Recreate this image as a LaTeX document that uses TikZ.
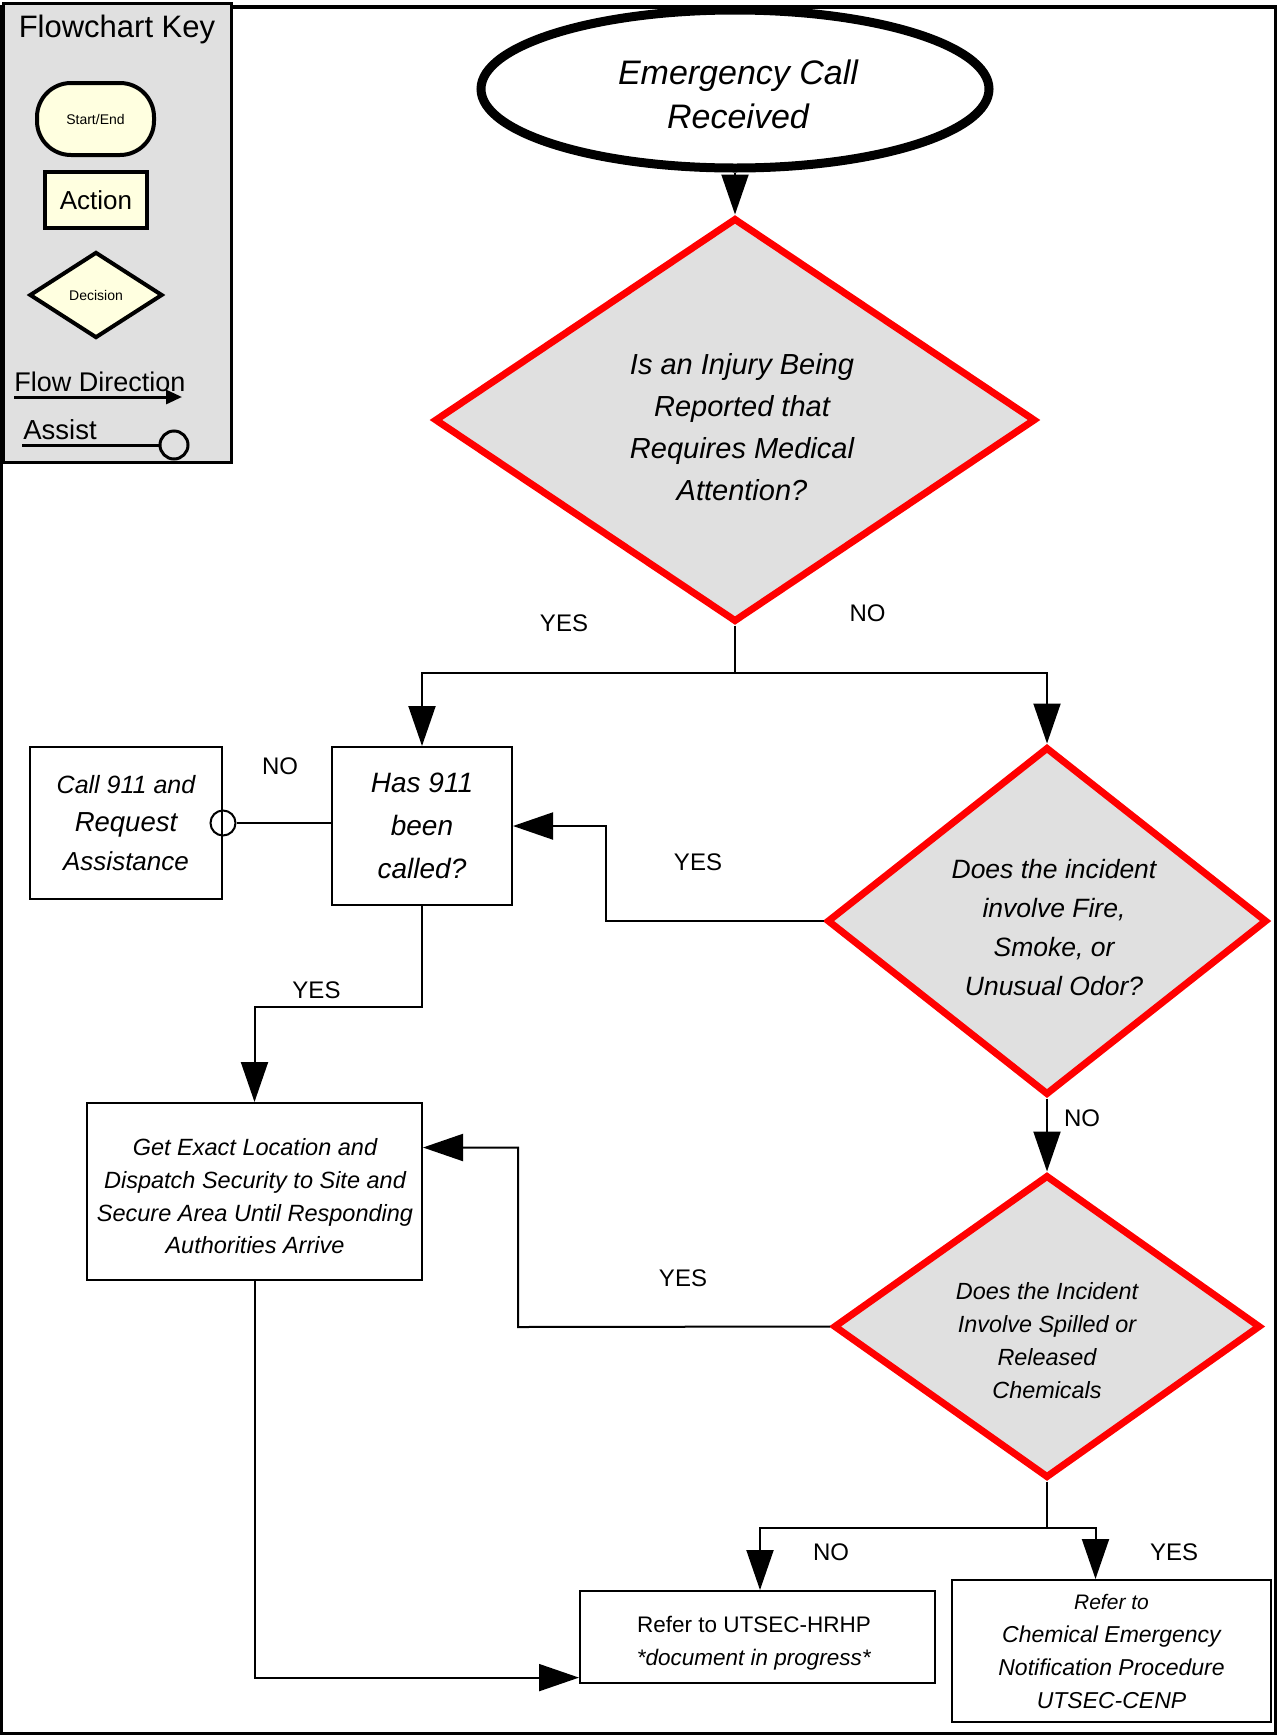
\documentclass[tikz,border=0pt]{standalone}
\usepackage{fontspec}
\setmainfont{Liberation Sans}
\usetikzlibrary{arrows.meta,shapes.geometric,calc}
\newcommand\fsz[2]{\fontsize{#1}{#2}\selectfont}
\definecolor{dgray}{RGB}{224,224,224}
\definecolor{cream}{RGB}{255,255,224}
\definecolor{kred}{RGB}{255,0,0}
\begin{document}
\begin{tikzpicture}[x=1pt,y=-1pt,
  conn/.style={line width=2pt},
  arr/.style={conn,-{Triangle[length=40pt,width=27pt]}},
  actbox/.style={draw,line width=2pt,fill=white,inner sep=0pt,align=center},
  decis/.style={diamond,draw=kred,line width=7pt,fill=dgray,inner sep=0pt},
  dtext/.style={align=center,inner sep=0pt},
  lbl/.style={inner sep=0pt,font=\fsz{24}{28}},
  keyshape/.style={draw,line width=4pt,fill=cream,inner sep=0pt}
]
\useasboundingbox (0,0) rectangle (1277,1735);
% outer frame
\draw[line width=2.5pt] (1.5,6.5) rectangle (1275.5,1733.5);
\draw[line width=4pt] (0,6.5) -- (1277,6.5);

% key
\node[draw,line width=3pt,fill=dgray,minimum width=228pt,minimum height=459pt,inner sep=0pt] (key) at (117.5,233) {};
\node[inner sep=0pt,font=\fsz{31}{34}] (keytitle) at (117,29) {Flowchart Key};
\node[keyshape,rounded corners=34pt,minimum width=117pt,minimum height=72pt,font=\fsz{14}{16}] (kse) at (95.5,119) {Start/End};
\node[keyshape,minimum width=102pt,minimum height=56pt,font=\fsz{26}{30}] (kact) at (96,200) {Action};
\node[keyshape,diamond,minimum width=133pt,minimum height=86pt,font=\fsz{14}{16}] (kdec) at (96,295) {Decision};
\node[inner sep=0pt,font=\fsz{27}{30}] (kflow) at (100,382) {Flow Direction};
\coordinate (kfa) at (14,397);
\coordinate (kfb) at (182,397);
\draw[line width=3pt,-{Triangle[length=16pt,width=14pt]}] (kfa) -- (kfb);
\node[inner sep=0pt,font=\fsz{27.5}{30}] (kassist) at (60,430) {Assist};
\node[circle,draw,line width=3pt,minimum size=28pt,inner sep=0pt] (kcirc) at (174,445) {};
\coordinate (kaa) at (22,445);
\draw[line width=3pt] (kaa) -- (kcirc.west);

% start
\node[ellipse,draw,line width=9pt,fill=white,minimum width=508pt,minimum height=158pt,inner sep=0pt] (start) at (735,89) {};
\node[dtext,font=\fsz{34}{44}\itshape] (startt) at (738,94) {Emergency Call\\Received};

% decision 1
\node[decis,minimum width=601pt,minimum height=404pt] (d1) at (735,420) {};
\node[dtext,font=\fsz{29}{42}\itshape] (d1t) at (742,427) {Is an Injury Being\\Reported that\\Requires Medical\\Attention?};

% has 911
\node[actbox,minimum width=180pt,minimum height=158pt,font=\fsz{28}{43}\itshape] (has) at (422,826) {Has 911\\been\\called?};
% call 911
\node[actbox,minimum width=192pt,minimum height=152pt,font=\fsz{26}{38.5}\itshape] (call) at (126,823) {{\fsz{25}{38.5}Call 911 and}\\{\fsz{27.5}{38.5}Request}\\{\fsz{26}{38.5}Assistance}};
\node[circle,draw,line width=2pt,minimum size=25pt,inner sep=0pt] (asc) at (call.east) {};

% decision 2
\node[decis,minimum width=440pt,minimum height=348pt] (d2) at (1047,921) {};
\node[dtext,font=\fsz{26.5}{39}\itshape] (d2t) at (1054,928) {Does the incident\\involve Fire,\\Smoke, or\\Unusual Odor?};

% get exact
\node[actbox,minimum width=335pt,minimum height=177pt] (get) at (254.5,1191.5) {};
\node[dtext,font=\fsz{23.5}{32.7}\itshape] (gett) at (255,1196.5) {Get Exact Location and\\Dispatch Security to Site and\\Secure Area Until Responding\\Authorities Arrive};

% decision 3
\node[decis,minimum width=427pt,minimum height=303pt] (d3) at (1047,1326.5) {};
\node[dtext,font=\fsz{23.4}{33}\itshape] (d3t) at (1047,1341) {Does the Incident\\Involve Spilled or\\Released\\Chemicals};

% refer boxes
\node[actbox,minimum width=355pt,minimum height=92pt] (hrhp) at (757.5,1637) {};
\node[dtext,font=\fsz{22.5}{33}] (hrhpt) at (754,1643) {Refer to UTSEC-HRHP\\\textit{*document in progress*}};
\node[actbox,minimum width=319pt,minimum height=142pt,font=\fsz{23}{33}\itshape] (cenp) at (1111.5,1651) {{\fsz{21}{33}Refer to}\\Chemical Emergency\\Notification Procedure\\UTSEC-CENP};

% connectors
\draw[arr] (start.south) -- (d1.north);
\coordinate (j1) at (735,673);
\draw[conn] (d1.south) -- (j1);
\draw[arr] (j1) -| (has.north);
\draw[arr] (j1) -| (d2.north);
\draw[conn] (asc.east) -- (asc.east -| has.west);
\coordinate (k1) at (606,921);
\draw[arr] (d2.west) -- (k1) |- (has.east);
\coordinate (j2) at (422,1007);
\draw[arr] (has.south) -- (j2) -| (get.north);
\draw[arr] (d2.south) -- (d3.north);
\coordinate (k2) at (518,1327);
\coordinate (k3) at (518,1147.5);
\draw[arr] (d3.west) -- (k2) -- (k3) -- (k3 -| get.east);
\coordinate (j3) at (1047,1528);
\draw[conn] (d3.south) -- (j3);
\coordinate (n1) at (760,1528);
\coordinate (y1) at (1095.5,1528);
\draw[arr] (j3) -- (n1) -- (n1 |- hrhp.north);
\draw[arr] (j3) -- (y1) -- (y1 |- cenp.north);
\coordinate (g2) at (254.5,1677.6);
\draw[arr] (get.south) -- (g2) -- (g2 -| hrhp.west);

% labels
\node[lbl] (l1) at (564,623) {YES};
\node[lbl] (l2) at (867.5,613) {NO};
\node[lbl] (l3) at (280,766) {NO};
\node[lbl] (l4) at (698,862) {YES};
\node[lbl] (l5) at (316.5,990) {YES};
\node[lbl] (l6) at (1082,1118) {NO};
\node[lbl] (l7) at (683,1278) {YES};
\node[lbl] (l8) at (831,1552.5) {NO};
\node[lbl] (l9) at (1174,1552.5) {YES};
\end{tikzpicture}
\end{document}
